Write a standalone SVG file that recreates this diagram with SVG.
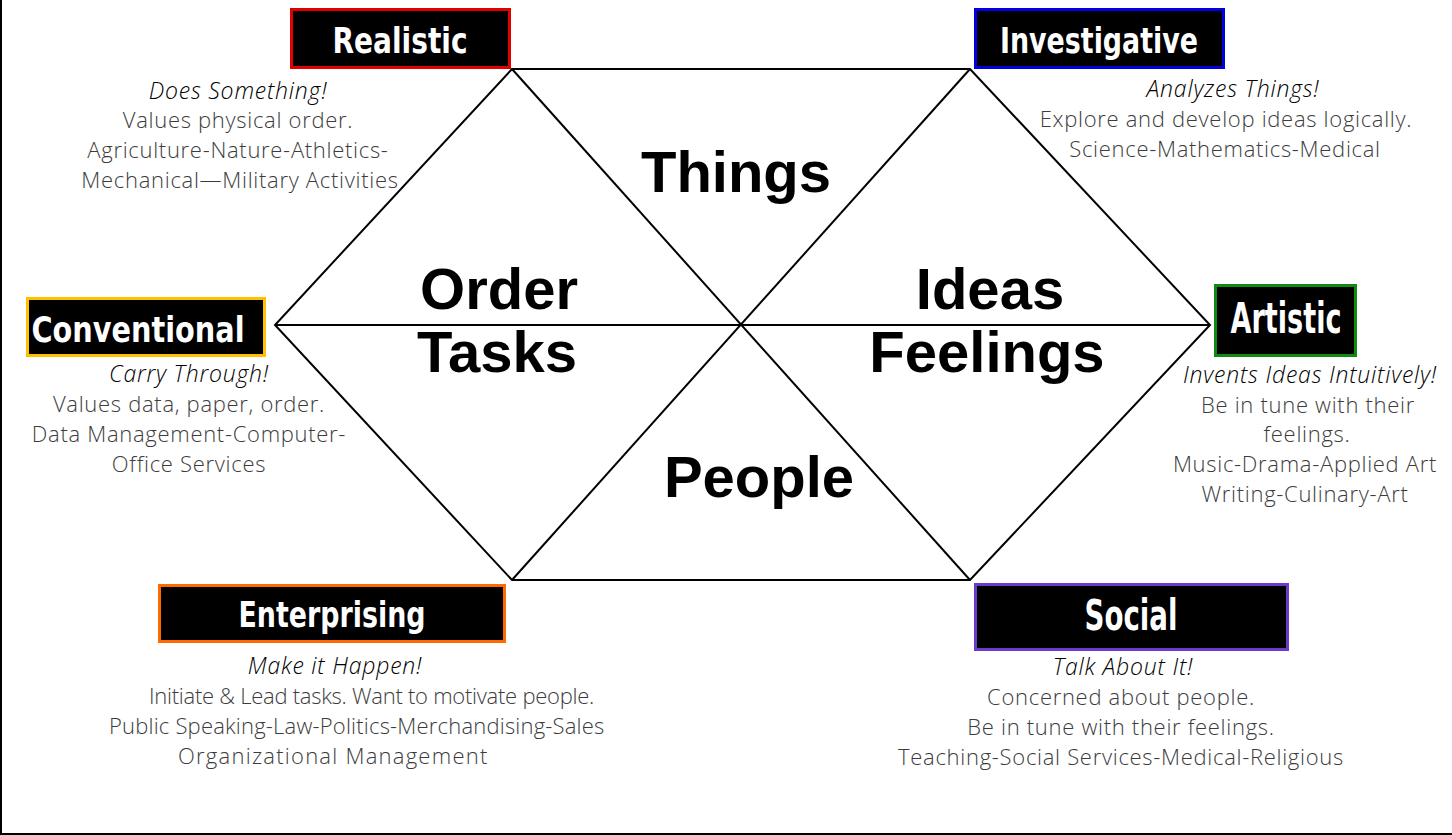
<svg xmlns="http://www.w3.org/2000/svg" width="1452" height="835" viewBox="0 0 1452 835">
<style>
.frame{stroke:#000;stroke-width:2;fill:none}
.hex{stroke:#000;stroke-width:2;fill:none;stroke-linejoin:miter}
.box{fill:#000;stroke-width:3}
.ttl{font-family:"Liberation Sans Narrow","DejaVu Sans Condensed","Liberation Sans",sans-serif;font-weight:bold;fill:#fff;text-anchor:middle}
.big{font-family:"Liberation Sans",Arial,sans-serif;font-weight:bold;font-size:58px;fill:#000;text-anchor:middle}
.tag{font-family:"Open Sans","Noto Sans",sans-serif;font-style:italic;font-weight:300;font-size:23px;fill:#000;text-anchor:middle;letter-spacing:0.8px}
.desc{font-family:"Open Sans","Noto Sans",sans-serif;font-weight:300;font-size:22px;fill:#3c3c3c;text-anchor:middle;letter-spacing:0.7px}
</style>
<rect width="1452" height="835" fill="#fff"/>
<g id="frame">
<line class="frame" x1="1" y1="0" x2="1" y2="835"/>
<line class="frame" x1="0" y1="834" x2="1452" y2="834"/>
</g>
<g id="connectors">
<polygon class="hex" points="512,69 970,69 1210,325 970,580 512,580 275,325"/>
<line class="hex" x1="512" y1="69" x2="970" y2="580"/>
<line class="hex" x1="970" y1="69" x2="512" y2="580"/>
<line class="hex" x1="275" y1="325" x2="1210" y2="325"/>
</g>
<g id="center-labels">
<text class="big" x="736" y="192">Things</text>
<text class="big" x="499" y="309">Order</text>
<text class="big" x="497" y="372">Tasks</text>
<text class="big" x="990" y="309">Ideas</text>
<text class="big" x="987" y="372">Feelings</text>
<text class="big" x="759" y="497">People</text>
</g>
<g id="realistic">
<rect class="box" x="291.5" y="9.5" width="218" height="58" stroke="#e00000"/>
<text class="ttl" x="400" y="53" font-size="35" textLength="135" lengthAdjust="spacingAndGlyphs">Realistic</text>
<text class="tag" x="238" y="99">Does Something!</text>
<text class="desc" x="238" y="128">Values physical order.</text>
<text class="desc" x="238" y="158">Agriculture-Nature-Athletics-</text>
<text class="desc" x="240" y="188">Mechanical—Military Activities</text>
</g>
<g id="investigative">
<rect class="box" x="975.5" y="9.5" width="248" height="58" stroke="#0000e0"/>
<text class="ttl" x="1099" y="53" font-size="35" textLength="198" lengthAdjust="spacingAndGlyphs">Investigative</text>
<text class="tag" x="1233" y="97">Analyzes Things!</text>
<text class="desc" x="1226" y="127">Explore and develop ideas logically.</text>
<text class="desc" x="1225" y="157">Science-Mathematics-Medical</text>
</g>
<g id="conventional">
<rect class="box" x="27.5" y="298.5" width="237" height="57" stroke="#ffc000"/>
<text class="ttl" x="138" y="342" font-size="35" textLength="213" lengthAdjust="spacingAndGlyphs">Conventional</text>
<text class="tag" x="189" y="382">Carry Through!</text>
<text class="desc" x="189" y="412">Values data, paper, order.</text>
<text class="desc" x="189" y="442">Data Management-Computer-</text>
<text class="desc" x="189" y="472">Office Services</text>
</g>
<g id="artistic">
<rect class="box" x="1215.5" y="285.5" width="140" height="70" stroke="#108a10"/>
<text class="ttl" x="1286" y="333" font-size="42" textLength="111" lengthAdjust="spacingAndGlyphs">Artistic</text>
<text class="tag" x="1310" y="383">Invents Ideas Intuitively!</text>
<text class="desc" x="1308" y="413">Be in tune with their</text>
<text class="desc" x="1307" y="442">feelings.</text>
<text class="desc" x="1305" y="472">Music-Drama-Applied Art</text>
<text class="desc" x="1305" y="502">Writing-Culinary-Art</text>
</g>
<g id="enterprising">
<rect class="box" x="159.5" y="585.5" width="345" height="56" stroke="#ff6a00"/>
<text class="ttl" x="332" y="627" font-size="35" textLength="187" lengthAdjust="spacingAndGlyphs">Enterprising</text>
<text class="tag" x="335" y="674">Make it Happen!</text>
<text class="desc" x="372" y="704" textLength="446" lengthAdjust="spacing">Initiate &amp; Lead tasks. Want to motivate people.</text>
<text class="desc" x="357" y="734" textLength="496" lengthAdjust="spacing">Public Speaking-Law-Politics-Merchandising-Sales</text>
<text class="desc" x="333" y="764" textLength="310" lengthAdjust="spacing">Organizational Management</text>
</g>
<g id="social">
<rect class="box" x="975.5" y="584.5" width="312" height="65" stroke="#6b3cc9"/>
<text class="ttl" x="1131" y="630" font-size="42" textLength="93" lengthAdjust="spacingAndGlyphs">Social</text>
<text class="tag" x="1123" y="675">Talk About It!</text>
<text class="desc" x="1121" y="705">Concerned about people.</text>
<text class="desc" x="1121" y="735">Be in tune with their feelings.</text>
<text class="desc" x="1121" y="765">Teaching-Social Services-Medical-Religious</text>
</g>
</svg>
